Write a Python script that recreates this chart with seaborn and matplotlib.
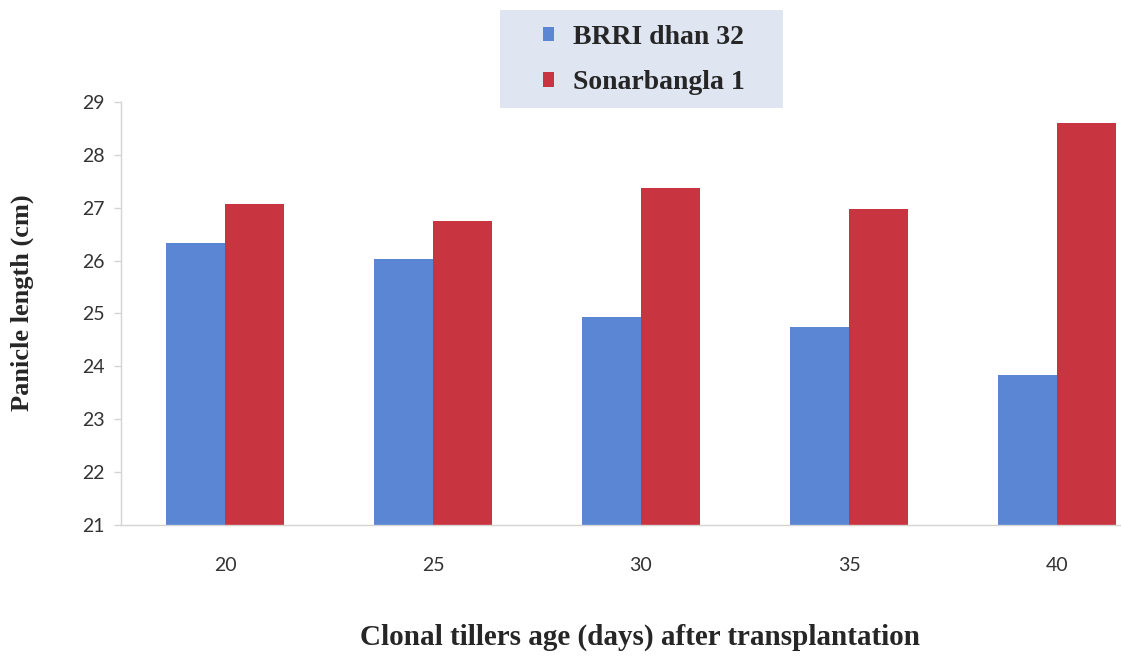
import matplotlib
matplotlib.use("Agg")
import matplotlib.pyplot as plt
from matplotlib.patches import Rectangle, Patch
import seaborn as sns
import pandas as pd

# Panicle length (cm) by age of clonal tillers, two rice varieties
ages = ["20", "25", "30", "35", "40"]
varieties = ["BRRI dhan 32", "Sonarbangla 1"]
brri_dhan_32 = [26.33, 26.04, 24.93, 24.74, 23.84]
sonarbangla_1 = [27.07, 26.74, 27.38, 26.97, 28.60]
y_ticks = [21, 22, 23, 24, 25, 26, 27, 28, 29]

colors = ["#5b86d3", "#c8343f"]

df = pd.DataFrame({
    "age": ages * 2,
    "variety": [varieties[0]] * len(ages) + [varieties[1]] * len(ages),
    "length": brri_dhan_32 + sonarbangla_1,
})

sns.set_theme(style="white")
serif_bold = dict(family="Liberation Serif", weight="bold")

W, H = 1121, 664
fig = plt.figure(figsize=(W / 100, H / 100), dpi=100)
ax = fig.add_axes([121 / W, (H - 525) / H, 1000 / W, 423 / H])

sns.barplot(data=df, x="age", y="length", hue="variety", order=ages,
            hue_order=varieties, palette=colors, width=0.57, gap=0,
            saturation=1, linewidth=0, legend=False, ax=ax)

ax.set_ylim(21, 29)
ax.set_xlim(-0.5, 4.5 - 40 / 208)
ax.set_yticks(y_ticks)
ax.set_yticklabels([str(t) for t in y_ticks])

for s in ["top", "right"]:
    ax.spines[s].set_visible(False)
for s in ["left", "bottom"]:
    ax.spines[s].set_color("#d4d4d4")
    ax.spines[s].set_linewidth(1.0)

ax.tick_params(axis="y", length=5, width=1, color="#d4d4d4", pad=7,
               labelsize=14, labelcolor="#333333", left=True)
ax.tick_params(axis="x", length=0, pad=23, labelsize=14, labelcolor="#333333")
for lab in ax.get_xticklabels() + ax.get_yticklabels():
    lab.set_family("Lato")

ax.set_xlabel("Clonal tillers age (days) after transplantation", fontsize=21, **serif_bold)
ax.set_ylabel("Panicle length (cm)", fontsize=19, **serif_bold)
ax.xaxis.set_label_coords((640 - 121) / 1000, -(637 - 525) / 423)
ax.xaxis.label.set_va("center")
ax.yaxis.set_label_coords((22 - 121) / 1000, (525 - 303) / 423)
ax.yaxis.label.set_va("center")

# Legend panel
fig.patches.append(Rectangle((500 / W, (H - 108) / H), 283 / W, 98 / H,
                             transform=fig.transFigure, facecolor="#dfe5f1",
                             edgecolor="none", zorder=0))
handles = [Patch(facecolor=c, edgecolor="none") for c in colors]
fig.legend(handles, varieties, loc="center", bbox_to_anchor=(644 / W, (H - 60) / H),
           frameon=False, handlelength=0.4, handleheight=0.4, handletextpad=0.7,
           labelspacing=0.75, prop=dict(size=20, **serif_bold))

fig.savefig("out.png", dpi=100)
